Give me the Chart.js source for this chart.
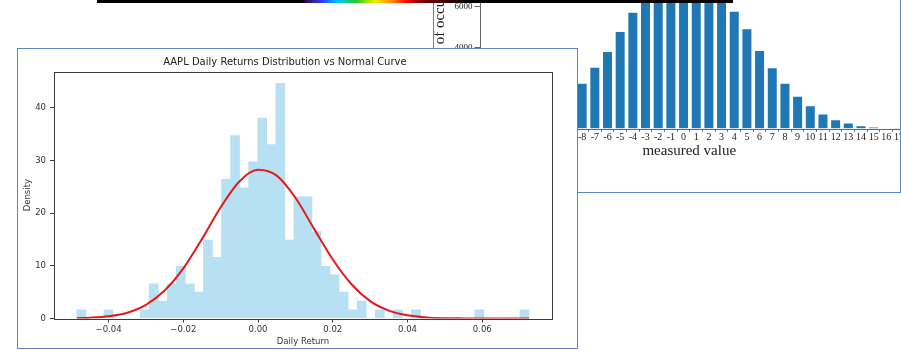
<!DOCTYPE html>
<html>
<head>
<meta charset="utf-8">
<script src="https://cdn.jsdelivr.net/npm/chart.js@4.4.1/dist/chart.umd.min.js"></script>
<style>
  body { margin: 0; width: 901px; height: 350px; overflow: hidden; background: #fff; position: relative; }
  #back { position: absolute; left: 433px; top: -130px; width: 468px; height: 323px; box-sizing: border-box;
          border: 1.5px solid #5b85cf; background: #fff; overflow: hidden; }
  #front { position: absolute; left: 17px; top: 48px; width: 561px; height: 301px; box-sizing: border-box;
           border: 1.5px solid #5b85cf; background: #fff; }
  canvas { position: absolute; left: 0; top: 0; }
  #strip { position: absolute; left: 97px; top: 0; width: 636px; height: 3px;
    background: linear-gradient(to right, #000 0px, #000 205px, #3a0a5a 210px, #2a3cff 225px, #00c8ff 241px,
      #22cc22 259px, #f2ee00 278px, #ff8a00 295px, #ff1000 308px, #7a0000 325px, #2a0000 355px, #000 370px, #000 636px); }
</style>
</head>
<body>
<div id="back"><canvas id="measured" width="470" height="320"></canvas></div>
<div id="front"><canvas id="aapl" width="558" height="298"></canvas></div>
<div id="strip"></div>
<script>
// --- AAPL histogram (density per bin), 50 bins ---
const binStart = -0.0485;
const binWidth = 0.00242;
const densities = [1.65, 0, 0, 1.65, 0, 0, 0, 1.65, 6.6, 3.3,
                   6.6, 9.9, 6.6, 5.0, 14.9, 11.6, 26.4, 34.7, 24.8, 29.7,
                   38.0, 33.0, 44.6, 14.9, 23.1, 23.1, 16.5, 9.9, 8.3, 5.0,
                   1.65, 3.3, 0, 1.65, 0, 1.65, 0, 1.65, 0, 0,
                   0, 0, 0, 0, 1.65, 0, 0, 0, 0, 1.65];
// normal curve
const curveX = [-0.0485, -0.045, -0.04, -0.035, -0.03, -0.025, -0.02, -0.015, -0.01, -0.005, 0, 0.005,
                0.01, 0.015, 0.02, 0.025, 0.03, 0.035, 0.04, 0.045, 0.05, 0.055, 0.06, 0.065, 0.0725];
const curveY = [0.06, 0.15, 0.43, 1.1, 2.6, 5.3, 9.5, 15.1, 21.1, 26.0, 28.2, 27.1,
                22.9, 17.0, 11.2, 6.5, 3.3, 1.5, 0.6, 0.2, 0.06, 0.02, 0, 0, 0];
const xTicks = [-0.04, -0.02, 0, 0.02, 0.04, 0.06];
const yTicks = [0, 10, 20, 30, 40];

// --- background chart: measured value counts ---
const measured = [-16, -15, -14, -13, -12, -11, -10, -9, -8, -7, -6, -5, -4, -3, -2, -1, 0,
                  1, 2, 3, 4, 5, 6, 7, 8, 9, 10, 11, 12, 13, 14, 15, 16, 17];
const occurrences = [30, 64, 128, 262, 425, 706, 1116, 1580, 2222, 3010, 3780, 4770, 5710, 6560, 7230, 7670, 7820,
                     7670, 7230, 6560, 5760, 4900, 3830, 2980, 2220, 1580, 1115, 705, 425, 262, 128, 64, 30, 10];
const occTicks = [0, 2000, 4000, 6000, 8000, 10000];

const frameBox = {
  id: 'frameBox',
  afterDraw(chart, args, opts) {
    const a = chart.chartArea, ctx = chart.ctx;
    ctx.save();
    ctx.strokeStyle = opts.color;
    ctx.lineWidth = 1;
    ctx.strokeRect(Math.round(a.left) + 0.5, Math.round(a.top) + 0.5,
                   Math.round(a.right - a.left), Math.round(a.bottom - a.top));
    ctx.restore();
  }
};

const mpl = "'DejaVu Sans', sans-serif";
const serif = "'Liberation Serif', serif";

const histData = densities.map((d, i) => ({ x: binStart + binWidth * (i + 0.5), y: d }));
const curveData = curveX.map((x, i) => ({ x: x, y: curveY[i] }));

new Chart(document.getElementById('aapl'), {
  type: 'bar',
  data: {
    datasets: [
      { type: 'line', data: curveData, borderColor: '#e3191c', borderWidth: 2, pointRadius: 0,
        cubicInterpolationMode: 'monotone', order: 0 },
      { type: 'bar', data: histData, backgroundColor: '#b7e1f3', borderWidth: 0,
        barPercentage: 1, categoryPercentage: 1, order: 1 }
    ]
  },
  options: {
    responsive: false, animation: false,
    layout: { autoPadding: false, padding: { left: 0, right: 24.2, top: 0, bottom: 0 } },
    plugins: {
      legend: { display: false }, tooltip: { enabled: false },
      title: { display: true, text: 'AAPL Daily Returns Distribution vs Normal Curve', color: '#222',
               font: { family: mpl, size: 10, weight: 'normal' }, padding: { top: 7.8, bottom: 3 } },
      frameBox: { color: '#3a3a3a' }
    },
    scales: {
      x: {
        type: 'linear', min: -0.0546, max: 0.0786, offset: false,
        afterBuildTicks: s => { s.ticks = xTicks.map(v => ({ value: v })); },
        afterFit: s => { s.height = 28.5; },
        grid: { drawOnChartArea: false, drawTicks: true, tickLength: 4, tickColor: '#3a3a3a', offset: false },
        border: { display: false },
        ticks: { color: '#333', font: { family: mpl, size: 8.5 }, padding: 2, maxRotation: 0,
                 callback: v => (v < 0 ? '\u2212' : '') + Math.abs(v).toFixed(2) },
        title: { display: true, text: 'Daily Return', color: '#333', font: { family: mpl, size: 8.5 },
                 padding: { top: 0, bottom: 0 } }
      },
      y: {
        min: 0, max: 46.8,
        afterBuildTicks: s => { s.ticks = yTicks.map(v => ({ value: v })); },
        afterFit: s => { s.width = 36; },
        grid: { drawOnChartArea: false, drawTicks: true, tickLength: 4, tickColor: '#3a3a3a' },
        border: { display: false },
        ticks: { color: '#333', font: { family: mpl, size: 8.5 }, padding: 4, callback: v => String(v) },
        title: { display: true, text: 'Density', color: '#333', font: { family: mpl, size: 8.5 },
                 padding: { top: 4.7, bottom: 0 } }
      }
    }
  },
  plugins: [frameBox]
});

new Chart(document.getElementById('measured'), {
  type: 'bar',
  data: {
    datasets: [{ data: measured.map((m, i) => ({ x: m, y: occurrences[i] })), backgroundColor: '#1f77b4',
                 borderWidth: 0, barPercentage: 0.71, categoryPercentage: 1 }]
  },
  options: {
    responsive: false, animation: false,
    layout: { autoPadding: false, padding: { left: 0, right: 0, top: 50.6, bottom: 0 } },
    plugins: { legend: { display: false }, tooltip: { enabled: false }, frameBox: { color: '#666' } },
    scales: {
      x: {
        type: 'linear', min: -16.1, max: 17.0, offset: false,
        afterBuildTicks: s => { s.ticks = measured.map(v => ({ value: v })); },
        afterFit: s => { s.height = 62.2; },
        grid: { drawOnChartArea: false, drawTicks: true, tickLength: 3, tickColor: '#666' },
        border: { display: false },
        ticks: { color: '#222', font: { family: serif, size: 10 }, padding: 0, autoSkip: false, maxRotation: 0,
                 callback: v => String(v) },
        title: { display: true, text: 'measured value', color: '#222', font: { family: serif, size: 15 },
                 padding: { top: 0, bottom: 30.5 } }
      },
      y: {
        min: 0, max: 10200,
        afterBuildTicks: s => { s.ticks = occTicks.map(v => ({ value: v })); },
        afterFit: s => { s.width = 45.5; },
        grid: { drawOnChartArea: false, drawTicks: true, tickLength: 5, tickColor: '#666' },
        border: { display: false },
        ticks: { color: '#222', font: { family: serif, size: 9 }, padding: 2, callback: v => String(v) },
        title: { display: true, text: 'number of occurrences', color: '#222',
                 font: { family: serif, size: 15, lineHeight: 0.8 }, padding: { top: 0, bottom: 0 } }
      }
    }
  },
  plugins: [frameBox]
});
</script>
</body>
</html>
